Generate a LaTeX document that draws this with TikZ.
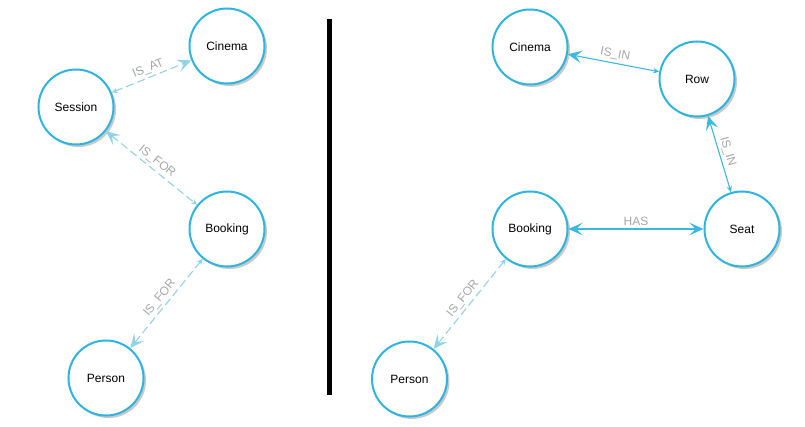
\documentclass[tikz,border=0pt]{standalone}
\usepackage{fontspec}
\setmainfont{Liberation Sans}
\usetikzlibrary{arrows.meta,shadows}
\definecolor{nodeblue}{HTML}{2DB4E1}
\definecolor{edgeblue}{HTML}{3BB9E3}
\definecolor{dashblue}{HTML}{92D2E6}
\definecolor{lblgray}{HTML}{A6A6A6}
\definecolor{shadowgray}{HTML}{C9C9C9}
\tikzset{
  BigTip/.tip={Stealth[length=14pt,width=12.5pt,inset=6pt]},
  SmallTip/.tip={Stealth[length=6pt,width=5.5pt,inset=2pt]},
  entity/.style={circle,draw=nodeblue,line width=2pt,fill=white,minimum size=75pt,inner sep=0pt,
    font=\fontsize{12}{14}\selectfont,
    drop shadow={shadow xshift=2.5pt,shadow yshift=-2.5pt,fill=shadowgray,opacity=1}},
  soliddge/.style={draw=edgeblue,line width=1.1pt},
  dashedge/.style={draw=dashblue,line width=1.1pt,dash pattern=on 8pt off 4pt},
  lbl/.style={sloped,above,inner sep=2.5pt,text=lblgray,font=\fontsize{12}{14}\selectfont}
}
\begin{document}
\begin{tikzpicture}[x=1pt,y=-1pt]
\useasboundingbox (0,0) rectangle (805,427);
% left graph
\node[entity] (cinL) at (227,46) {Cinema};
\node[entity] (sesL) at (76,107) {Session};
\node[entity] (bookL) at (227,229) {Booking};
\node[entity] (perL) at (106,378) {Person};
% right graph
\node[entity] (cinR) at (530,47) {Cinema};
\node[entity] (rowR) at (697,79) {Row};
\node[entity] (bookR) at (530,229) {Booking};
\node[entity] (seatR) at (742,229) {Seat};
\node[entity] (perR) at (409.5,379) {Person};
% divider
\draw[line width=4.5pt] (329.5,19) -- (329.5,395);
% left edges
\draw[dashedge,SmallTip-BigTip] (sesL) -- node[lbl]{IS\_AT} (cinL);
\draw[dashedge,BigTip-SmallTip] (sesL) -- node[lbl]{IS\_FOR} (bookL);
\draw[dashedge,SmallTip-BigTip] (bookL) -- node[lbl]{IS\_FOR} (perL);
% right edges
\draw[soliddge,BigTip-SmallTip] (cinR) -- node[lbl]{IS\_IN} (rowR);
\draw[soliddge,BigTip-SmallTip] (rowR) -- node[lbl]{IS\_IN} (seatR);
\draw[soliddge,BigTip-BigTip] (bookR) -- node[lbl]{HAS} (seatR);
\draw[dashedge,SmallTip-BigTip] (bookR) -- node[lbl]{IS\_FOR} (perR);
\end{tikzpicture}
\end{document}
